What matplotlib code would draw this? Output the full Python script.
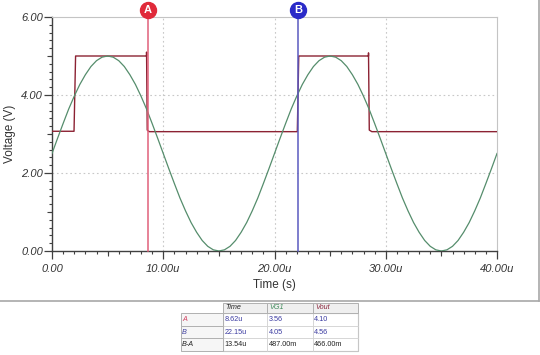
import matplotlib
matplotlib.use("Agg")
import matplotlib.pyplot as plt
from matplotlib.patches import Rectangle
from matplotlib.lines import Line2D
from matplotlib.ticker import MultipleLocator, FixedLocator, FixedFormatter

# ---------------- data ----------------
vg1_t = [i * 0.5 for i in range(81)]  # time in us, sample grid
vg1_v = [2.50, 2.89, 3.27, 3.64, 3.97, 4.27, 4.52, 4.73, 4.88, 4.97,
         5.00, 4.97, 4.88, 4.73, 4.52, 4.27, 3.97, 3.64, 3.27, 2.89,
         2.50, 2.11, 1.73, 1.36, 1.03, 0.73, 0.48, 0.27, 0.12, 0.03,
         0.00, 0.03, 0.12, 0.27, 0.48, 0.73, 1.03, 1.36, 1.73, 2.11,
         2.50, 2.89, 3.27, 3.64, 3.97, 4.27, 4.52, 4.73, 4.88, 4.97,
         5.00, 4.97, 4.88, 4.73, 4.52, 4.27, 3.97, 3.64, 3.27, 2.89,
         2.50, 2.11, 1.73, 1.36, 1.03, 0.73, 0.48, 0.27, 0.12, 0.03,
         0.00, 0.03, 0.12, 0.27, 0.48, 0.73, 1.03, 1.36, 1.73, 2.11,
         2.50]

vout_t = [0.0, 1.98, 2.12, 8.50, 8.50, 8.56, 8.75, 22.05, 22.18, 28.45, 28.45, 28.52, 28.75, 40.0]
vout_v = [3.07, 3.07, 5.00, 5.00, 5.10, 3.10, 3.06, 3.06, 5.00, 5.00, 5.08, 3.10, 3.06, 3.06]

cursor_names = ["A", "B"]
cursor_times = [8.62, 22.15]

x_ticks = [0, 10, 20, 30, 40]
x_tick_labels = ["0.00", "10.00u", "20.00u", "30.00u", "40.00u"]
y_ticks = [0, 2, 4, 6]
y_tick_labels = ["0.00", "2.00", "4.00", "6.00"]

table_cols = ["Time", "VG1", "Vout"]
table_rows = ["A", "B", "B-A"]
table_vals = [["8.62u", "3.56", "4.10"],
              ["22.15u", "4.05", "4.56"],
              ["13.54u", "487.00m", "466.00m"]]

# ---------------- styles ----------------
W, H = 540, 355
C_VG1 = "#558d6c"
C_VOUT = "#8c2233"
C_A = "#e0607a"
C_A_DOT = "#e02a3a"
C_B = "#5a5ac0"
C_B_DOT = "#2a2ac8"
FONT = "Liberation Sans"

fig = plt.figure(figsize=(W / 100, H / 100), dpi=100)
fig.patch.set_facecolor("white")

def fx(px):
    return px / W

def fy(py):
    return 1 - py / H

ax = fig.add_axes([fx(52), fy(251), 445 / W, 234 / H])
ax.set_xlim(0, 40)
ax.set_ylim(0, 6)

# grid
for xv in x_ticks[1:-1]:
    ax.axvline(xv, color="#c8c8c8", lw=0.8, ls=(0, (1.5, 2.5)), zorder=0)
for yv in y_ticks[1:-1]:
    ax.axhline(yv, color="#c8c8c8", lw=0.8, ls=(0, (1.5, 2.5)), zorder=0)

# traces
ax.plot(vout_t, vout_v, color=C_VOUT, lw=1.0, zorder=3)
ax.plot(vg1_t, vg1_v, color=C_VG1, lw=0.9, zorder=4)

# cursors
cur_line_cols = [C_A, C_B]
cur_dot_cols = [C_A_DOT, C_B_DOT]
top_y = 6 + 7 / 39.0
for name, tc, lc, dc in zip(cursor_names, cursor_times, cur_line_cols, cur_dot_cols):
    ax.plot([tc, tc], [0, top_y], color=lc, lw=1.1, clip_on=False, zorder=5)
    ax.plot([tc], [top_y], marker="o", ms=11.5, mfc=dc, mec=dc, clip_on=False, zorder=6)
    ax.text(tc, top_y, name, color="white", fontsize=8, fontweight="bold",
            family=FONT, ha="center", va="center", clip_on=False, zorder=7)

# spines
for s in ["top", "right"]:
    ax.spines[s].set_color("#c4c4c4")
    ax.spines[s].set_linewidth(0.8)
for s in ["left", "bottom"]:
    ax.spines[s].set_color("#404040")
    ax.spines[s].set_linewidth(1.0)

ax.xaxis.set_major_locator(FixedLocator(x_ticks))
ax.xaxis.set_major_formatter(FixedFormatter(x_tick_labels))
ax.yaxis.set_major_locator(FixedLocator(y_ticks))
ax.yaxis.set_major_formatter(FixedFormatter(y_tick_labels))
ax.xaxis.set_minor_locator(MultipleLocator(1))
ax.yaxis.set_minor_locator(MultipleLocator(0.2))
ax.tick_params(axis="both", which="major", length=5.5, width=0.9, color="#404040",
               labelsize=8, labelcolor="#333333")
ax.tick_params(axis="both", which="minor", length=2.2, width=0.8, color="#404040")
ax.tick_params(axis="x", which="major", pad=3.5)
ax.tick_params(axis="y", which="major", pad=1.0)
for lab in ax.get_xticklabels() + ax.get_yticklabels():
    lab.set_fontstyle("italic")
    lab.set_family(FONT)

# medium ticks
secx = ax.secondary_xaxis("bottom")
secx.set_xticks([5, 15, 25, 35])
secx.set_xticklabels([])
secx.tick_params(length=3.8, width=0.8, color="#404040")
secx.spines["bottom"].set_visible(False)
secy = ax.secondary_yaxis("left")
secy.set_yticks([1, 3, 5])
secy.set_yticklabels([])
secy.tick_params(length=3.8, width=0.8, color="#404040")
secy.spines["left"].set_visible(False)

# axis titles
fig.text(fx(10), fy(134), "Voltage (V)", rotation=90, ha="center", va="center",
         fontsize=8.5, family=FONT, color="#333333")
fig.text(fx(274), fy(285), "Time (s)", ha="center", va="center",
         fontsize=8.5, family=FONT, color="#333333")

# outer frame
fig.add_artist(Line2D([0, fx(538.5)], [fy(300.5), fy(300.5)], color="#a8a8a8", lw=1.2))
fig.add_artist(Line2D([fx(538.5), fx(538.5)], [fy(0), fy(300.5)], color="#a8a8a8", lw=1.2))

# ---------------- cursor table ----------------
col_x = [180.5, 222.7, 267.0, 312.7, 358.0]
row_y = [302.7, 312.7, 325.7, 338.3, 351.0]

def cell(x0, y0, x1, y1, fc, ec, lw=0.7):
    fig.add_artist(Rectangle((fx(x0), fy(y1)), fx(x1) - fx(x0), fy(y0) - fy(y1),
                             facecolor=fc, edgecolor=ec, lw=lw))

# data cells background
cell(col_x[1], row_y[1], col_x[4], row_y[4], "white", "#a8a8a8", 0.8)
for j in range(3):
    for i in range(3):
        cell(col_x[j + 1], row_y[i + 1], col_x[j + 2], row_y[i + 2], "none", "#d4d4d4", 0.5)

FS = 5.2
header_cols = ["#222222", "#3f8a5a", "#8c2a40"]
for j, (name, tc) in enumerate(zip(table_cols, header_cols)):
    cell(col_x[j + 1], row_y[0], col_x[j + 2], row_y[1], "#efefef", "#b0b0b0", 0.7)
    fig.text(fx(col_x[j + 1] + 2.5), fy((row_y[0] + row_y[1]) / 2), name, color=tc,
             fontsize=FS, fontstyle="italic", family=FONT, ha="left", va="center")

row_cols = ["#d04060", "#4040a0", "#222222"]
val_cols = ["#3a3aa0", "#3a3aa0", "#222222"]
for i, (name, rc) in enumerate(zip(table_rows, row_cols)):
    cell(col_x[0], row_y[i + 1], col_x[1], row_y[i + 2], "#f6f6f6", "#b0b0b0", 0.7)
    fig.text(fx(col_x[0] + 1.5), fy((row_y[i + 1] + row_y[i + 2]) / 2), name, color=rc,
             fontsize=FS, fontstyle="italic", family=FONT, ha="left", va="center")
    for j in range(3):
        fig.text(fx(col_x[j + 1] + 1.5), fy((row_y[i + 1] + row_y[i + 2]) / 2),
                 table_vals[i][j], color=val_cols[i], fontsize=FS, family=FONT,
                 ha="left", va="center")

fig.savefig("out.png", dpi=100, facecolor="white")
